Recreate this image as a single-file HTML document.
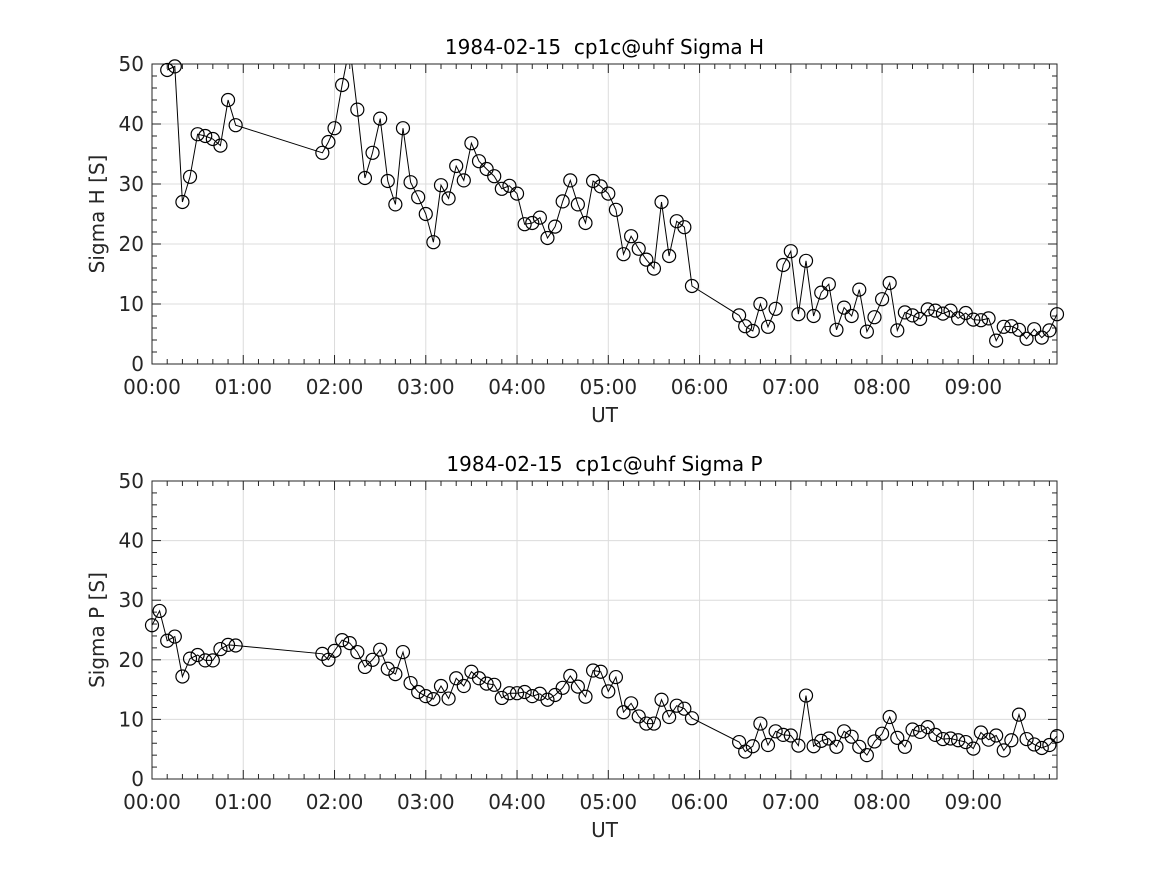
<!DOCTYPE html>
<html><head><meta charset="utf-8"><style>
html,body{margin:0;padding:0;background:#fff;}
svg{display:block;font-family:"DejaVu Sans","Liberation Sans",sans-serif;}
</style></head><body>
<svg id="chart" width="1167" height="875" viewBox="0 0 1167 875" xmlns="http://www.w3.org/2000/svg"></svg>
<script>
const timesEarly = [10,15,20,25,30,35,40,45,50,55];
const timesMid = [112,116,120,125,130,135,140,145,150,155,160,165,170,175,180,185,190,195,200,205,210,215,220,225,230,235,240,245,250,255,260,265,270,275,280,285,290,295,300,305,310,315,320,325,330,335,340,345,350,355];
const timesLate = [386,390,395,400,405,410,415,420,425,430,435,440,445,450,455,460,465,470,475,480,485,490,495,500,505,510,515,520,525,530,535,540,545,550,555,560,565,570,575,580,585,590,595];
const sigmaH = [49,49.6,27,31.2,38.3,38,37.5,36.4,44,39.8,
 35.2,37,39.3,46.5,53,42.4,31,35.2,40.9,30.5,26.6,39.3,30.3,27.8,25,20.3,29.8,27.6,33,30.6,36.8,33.8,32.5,31.3,29.2,29.7,28.4,23.3,23.5,24.4,21,22.9,27.1,30.6,26.6,23.5,30.5,29.6,28.4,25.7,18.3,21.3,19.2,17.4,15.9,27,18,23.8,22.8,13,
 8.1,6.3,5.5,10,6.2,9.2,16.5,18.8,8.3,17.2,8,11.9,13.3,5.7,9.4,8,12.4,5.4,7.8,10.8,13.5,5.6,8.6,8.1,7.5,9.1,8.9,8.4,8.9,7.6,8.5,7.4,7.3,7.6,3.9,6.2,6.3,5.7,4.2,5.8,4.4,5.6,8.3];
const sigmaP = [25.8,28.2,23.2,23.9,17.2,20.2,20.8,19.9,19.9,21.8,22.5,22.4,
 21,20,21.5,23.3,22.8,21.3,18.8,20,21.7,18.5,17.6,21.3,16.1,14.6,13.9,13.4,15.6,13.5,16.9,15.6,18,16.9,16,15.8,13.6,14.4,14.4,14.6,13.9,14.3,13.3,14.1,15.3,17.3,15.5,13.8,18.2,18,14.7,17.1,11.2,12.7,10.5,9.3,9.3,13.3,10.4,12.3,11.8,10.2,
 6.2,4.6,5.5,9.3,5.7,8,7.4,7.3,5.6,14,5.5,6.4,6.8,5.4,8,7.1,5.4,4,6.3,7.6,10.4,6.9,5.4,8.3,7.9,8.7,7.4,6.7,6.8,6.5,6.2,5.1,7.8,6.6,7.3,4.8,6.5,10.8,6.7,5.8,5.2,5.7,7.2];
const xTickLabels = ["00:00","01:00","02:00","03:00","04:00","05:00","06:00","07:00","08:00","09:00"];
const yTickLabels = ["0","10","20","30","40","50"];

const NS="http://www.w3.org/2000/svg";
const svg=document.getElementById('chart');
function mk(tag,attrs,parent){const e=document.createElementNS(NS,tag);for(const k in attrs)e.setAttribute(k,attrs[k]);(parent||svg).appendChild(e);return e;}
const X0=152,X1=1057,XMAX=595;
function drawPanel(top,bottom,title,ylabel,times,vals,key){
  const g=mk('g',{});
  
  
  const sx=m=>X0+(m/XMAX)*(X1-X0);
  const sy=v=>bottom-(v/50)*(bottom-top);
  const cp=mk('clipPath',{id:'clip-'+key},g);
  mk('rect',{x:X0-20,y:top,width:X1-X0+40,height:bottom-top},cp);
  for(let i=0;i<xTickLabels.length;i++){const x=sx(i*60);const l=mk('line',{x1:x,x2:x,y1:top,y2:bottom,stroke:'#dcdcdc','stroke-width':1},g);
    }
  for(let i=0;i<yTickLabels.length;i++){const y=sy(+yTickLabels[i]);const l=mk('line',{x1:X0,x2:X1,y1:y,y2:y,stroke:'#dcdcdc','stroke-width':1},g);
    }
  for(let m=0;m<=XMAX;m+=10){const x=sx(m);const len=(m%60===0)?9:5;
    mk('line',{x1:x,x2:x,y1:bottom,y2:bottom-len,stroke:'#262626','stroke-width':1},g);
    mk('line',{x1:x,x2:x,y1:top,y2:top+len,stroke:'#262626','stroke-width':1},g);}
  for(let v=0;v<=50;v+=2){const y=sy(v);const len=(v%10===0)?9:5;
    mk('line',{x1:X0,x2:X0+len,y1:y,y2:y,stroke:'#262626','stroke-width':1},g);
    mk('line',{x1:X1,x2:X1-len,y1:y,y2:y,stroke:'#262626','stroke-width':1},g);}
  const fr=mk('rect',{x:X0,y:top,width:X1-X0,height:bottom-top,fill:'none',stroke:'#262626','stroke-width':1},g);
  
  for(let i=0;i<xTickLabels.length;i++){const t=mk('text',{x:sx(i*60),y:bottom+30,'text-anchor':'middle','font-size':20,fill:'#262626'},g);t.textContent=xTickLabels[i];
    }
  for(let i=0;i<yTickLabels.length;i++){const t=mk('text',{x:X0-8,y:sy(+yTickLabels[i])+7,'text-anchor':'end','font-size':20,fill:'#262626'},g);t.textContent=yTickLabels[i];
    }
  const tt=mk('text',{x:(X0+X1)/2,y:top-10,'text-anchor':'middle','font-size':20,fill:'#000',style:'white-space:pre'},g);tt.textContent=title;
  
  const xl=mk('text',{x:(X0+X1)/2,y:bottom+58,'text-anchor':'middle','font-size':20,fill:'#262626'},g);xl.textContent='UT';
  
  const cy=(top+bottom)/2;
  const yl=mk('text',{x:104,y:cy,'text-anchor':'middle','font-size':20,fill:'#262626',transform:'rotate(-90 104 '+cy+')'},g);yl.textContent=ylabel;
  
  const dg=mk('g',{'clip-path':'url(#clip-'+key+')'},g);
  let d='';
  for(let i=0;i<vals.length;i++){d+=(i?'L':'M')+sx(times[i]).toFixed(1)+' '+sy(vals[i]).toFixed(1);}
  const p=mk('path',{d:d,fill:'none',stroke:'#000','stroke-width':1},dg);
  
  for(let i=0;i<vals.length;i++){if(vals[i]>50)continue;
    const c=mk('circle',{cx:sx(times[i]),cy:sy(vals[i]),r:6.5,fill:'none',stroke:'#000','stroke-width':1.2},g);
    }
}
const tH=timesEarly.concat(timesMid,timesLate);
const tP=[0,5].concat(timesEarly,timesMid,timesLate);
drawPanel(64,364,'1984-02-15  cp1c@uhf Sigma H','Sigma H [S]',tH,sigmaH,'sigma-h');
drawPanel(481,779,'1984-02-15  cp1c@uhf Sigma P','Sigma P [S]',tP,sigmaP,'sigma-p');
</script>
</body></html>
